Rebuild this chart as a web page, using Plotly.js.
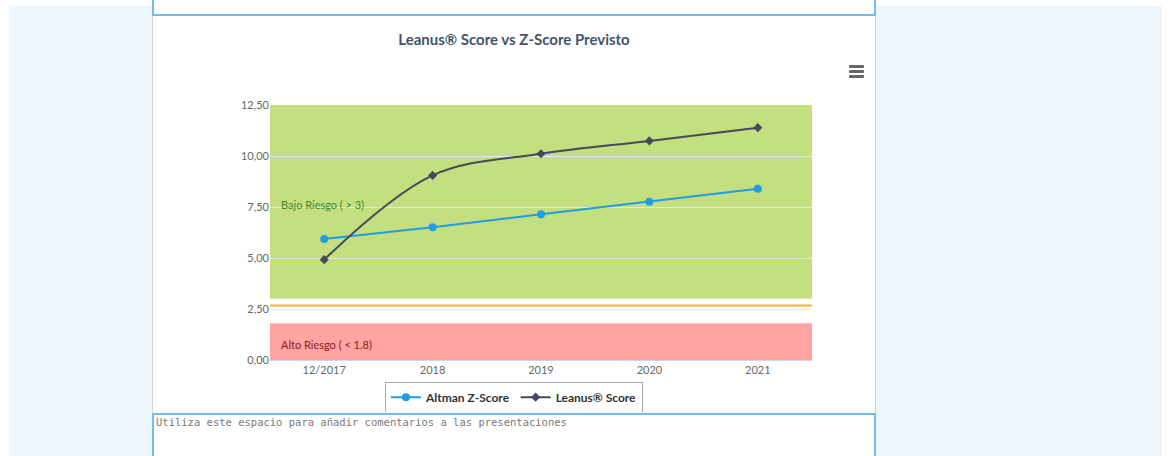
<!DOCTYPE html>
<html>
<head>
<meta charset="utf-8">
<script src="https://cdn.plot.ly/plotly-3.0.1.min.js"></script>
<style>
  html, body { margin: 0; padding: 0; background: #ffffff; width: 1172px; height: 456px; overflow: hidden; }
  #bg { position: absolute; left: 9px; top: 6px; width: 1153px; height: 450px; background: #eef6fe; }
  #panel { position: absolute; left: 152px; top: 0px; width: 724px; height: 456px; background: #ffffff;
           border-left: 1px solid #d6d6d6; border-right: 1px solid #d6d6d6; box-sizing: border-box; }
  .ta { position: absolute; left: 152px; width: 724px; box-sizing: border-box; border: 2px solid #74bdea;
        background: #fff; font-family: "DejaVu Sans Mono", monospace; font-size: 10.5px; color: #7a7a7a; padding: 1px 2px; }
  #ta1 { top: -30px; height: 46px; }
  #ta2 { top: 413px; height: 50px; }
  #chart { position: absolute; left: 153px; top: 16px; width: 722px; height: 396px; }
  #menu { position: absolute; left: 849px; top: 65px; width: 15px; }
  #menu div { height: 2.5px; background: #666; margin-bottom: 2.5px; border-radius: 1px; }
</style>
</head>
<body>
<div id="bg"></div>
<div id="panel"></div>
<div class="ta" id="ta1"></div>
<div class="ta" id="ta2">Utiliza este espacio para añadir comentarios a las presentaciones</div>
<div id="chart"></div>
<div id="menu"><div></div><div></div><div></div></div>
<script>
const categories = ["12/2017", "2018", "2019", "2020", "2021"];
const altmanZ = [5.93, 6.51, 7.14, 7.76, 8.40];
const leanusScore = [4.92, 9.05, 10.11, 10.74, 11.39];
const yTicks = [0, 2.5, 5, 7.5, 10, 12.5];
const bajoRiesgo = [3, 12.5];
const altoRiesgo = [0, 1.8];
const greyLimit = 2.675;

const font = "Lato, 'Noto Sans', sans-serif";

const traces = [
  {
    x: categories, y: altmanZ, name: "Altman Z-Score", type: "scatter", mode: "lines+markers",
    line: { color: "#229de2", width: 2 },
    marker: { symbol: "circle", size: 8, color: "#229de2" },
    hoverinfo: "x+y"
  },
  {
    x: categories, y: leanusScore, name: "Leanus® Score", type: "scatter", mode: "lines+markers",
    line: { color: "#434a5a", width: 2, shape: "spline", smoothing: 1 },
    marker: { symbol: "diamond", size: 7, color: "#434a5a" },
    hoverinfo: "x+y"
  }
];

const layout = {
  width: 722, height: 396,
  margin: { l: 117, r: 63, t: 89, b: 52, autoexpand: false },
  paper_bgcolor: "rgba(0,0,0,0)",
  plot_bgcolor: "#ffffff",
  separators: ",.",
  font: { family: font, size: 11, color: "#666666" },
  title: {
    text: "<b>Leanus® Score vs Z-Score Previsto</b>",
    x: 0.5, xref: "container", xanchor: "center",
    y: 1 - 24 / 396, yref: "container", yanchor: "middle",
    font: { family: font, size: 15, color: "#44546a" }
  },
  xaxis: {
    type: "category", range: [-0.5, categories.length - 0.5],
    showgrid: false, zeroline: false,
    showline: true, linecolor: "#ccd6eb", linewidth: 1,
    ticks: "", tickangle: 0, automargin: false,
    tickfont: { family: font, size: 11, color: "#666666" },
    fixedrange: true
  },
  yaxis: {
    range: [yTicks[0], yTicks[yTicks.length - 1]],
    tickvals: yTicks, tickformat: ".2f", automargin: false,
    showgrid: true, gridcolor: "#e6e6e6", gridwidth: 1,
    zeroline: false, showline: false, ticks: "",
    tickfont: { family: font, size: 11, color: "#666666" },
    fixedrange: true
  },
  shapes: [
    { type: "rect", xref: "paper", yref: "y", x0: 0, x1: 1, y0: bajoRiesgo[0], y1: bajoRiesgo[1],
      fillcolor: "#c3df80", line: { width: 0 }, layer: "below" },
    { type: "rect", xref: "paper", yref: "y", x0: 0, x1: 1, y0: altoRiesgo[0], y1: altoRiesgo[1],
      fillcolor: "#ffa3a3", line: { width: 0 }, layer: "below" },
    { type: "line", xref: "paper", yref: "y", x0: 0, x1: 1, y0: greyLimit, y1: greyLimit,
      line: { color: "#f2b632", width: 2 }, layer: "below" }
  ],
  annotations: [
    { text: "Bajo Riesgo ( > 3)", xref: "paper", yref: "y", x: 0, y: 7.6, xanchor: "left", yanchor: "middle",
      xshift: 9, showarrow: false, font: { family: font, size: 11, color: "#3f8a2a" } },
    { text: "Alto Riesgo ( < 1.8)", xref: "paper", yref: "y", x: 0, y: 0.78, xanchor: "left", yanchor: "middle",
      xshift: 9, showarrow: false, font: { family: font, size: 11, color: "#8e1a1a" } }
  ],
  showlegend: true,
  legend: {
    orientation: "h",
    x: 0.45, xanchor: "center",
    y: -0.085, yanchor: "top",
    bordercolor: "#aaaaaa", borderwidth: 1, bgcolor: "#ffffff",
    font: { family: font, size: 12, color: "#333333", weight: "bold" }
  },
  hovermode: "closest"
};

Plotly.newPlot("chart", traces, layout, { displayModeBar: false });
</script>
</body>
</html>
